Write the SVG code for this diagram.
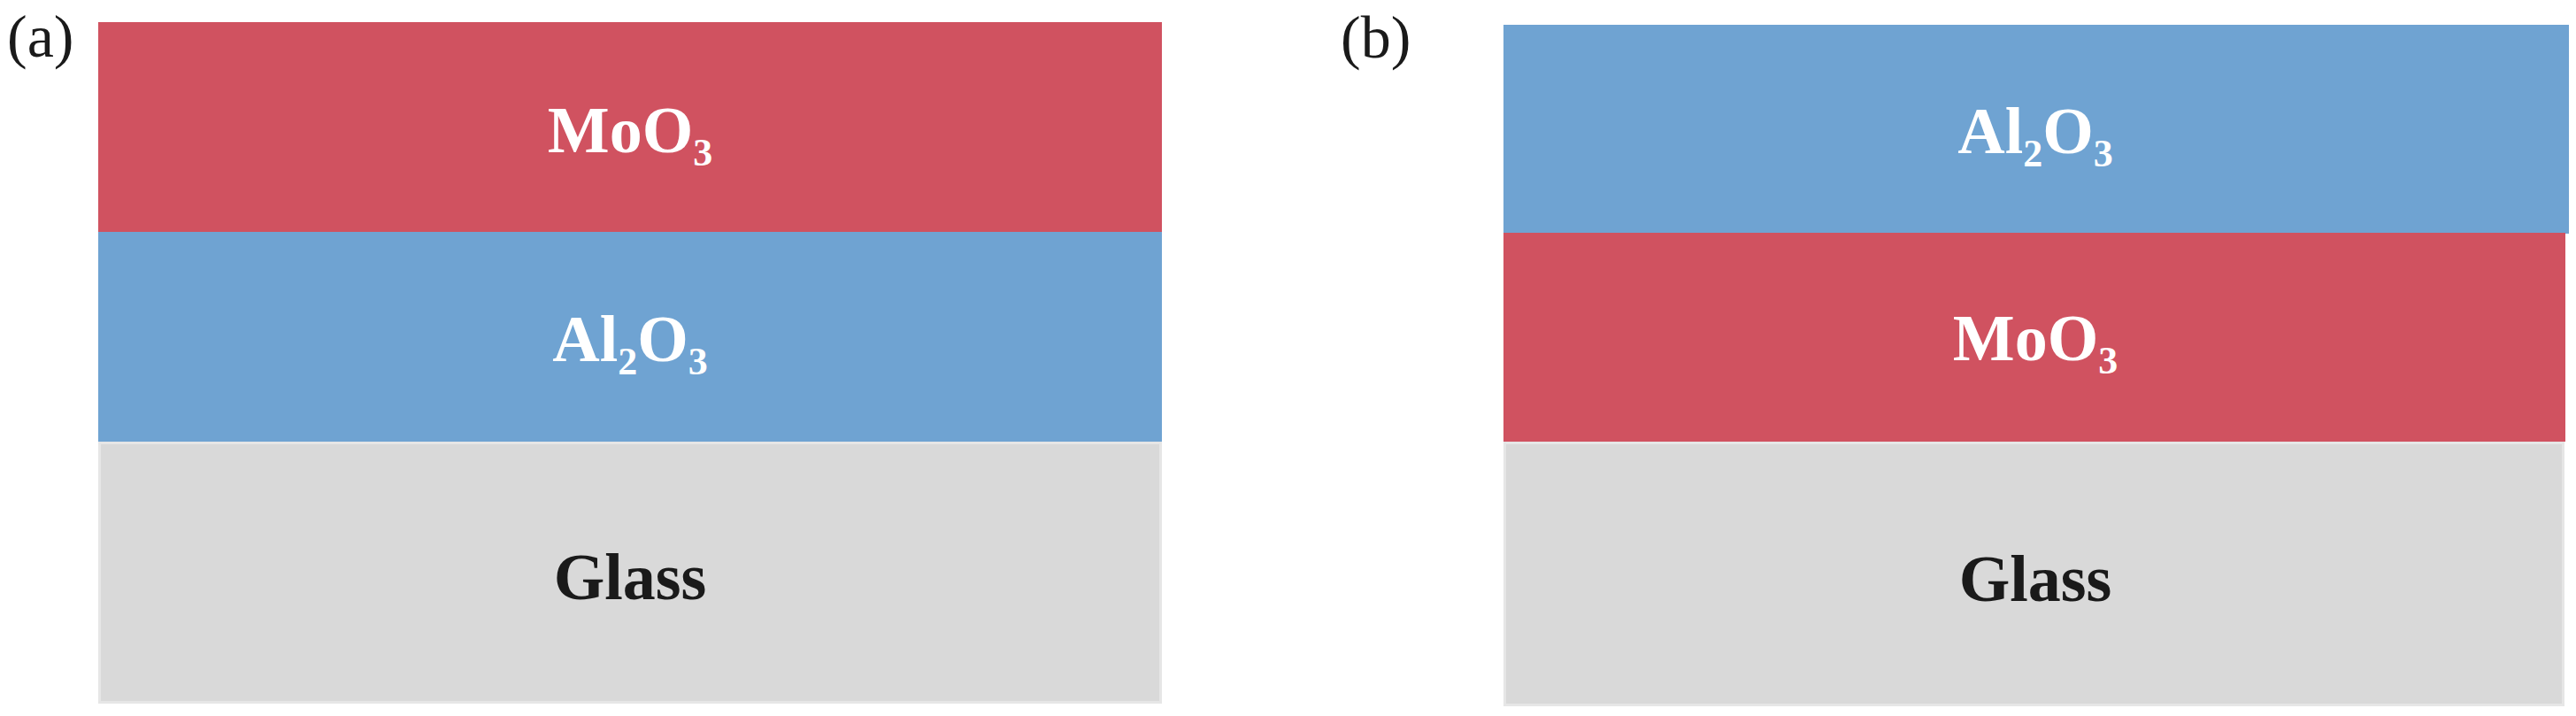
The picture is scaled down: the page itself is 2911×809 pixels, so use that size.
<svg xmlns="http://www.w3.org/2000/svg" width="2911" height="809" viewBox="0 0 2911 809">
<style>
.moo{fill:#D05260}
.al{fill:#6FA3D2}
.gl{fill:#D9D9D9;stroke:#E6E6E6;stroke-width:3}
.wt{font-family:"Liberation Serif","Times New Roman",serif;font-weight:bold;font-size:74px;fill:#FFFFFF;text-anchor:middle}
.bt{font-family:"Liberation Serif","Times New Roman",serif;font-weight:bold;font-size:74px;fill:#1A1A1A;text-anchor:middle}
.sub{font-size:44px}
.pl{font-family:"Liberation Serif","Times New Roman",serif;font-size:68px;fill:#1A1A1A}
</style>
<rect width="2911" height="809" fill="#FFFFFF"/>
<g id="panel-a">
  <text class="pl" x="8" y="64">(a)</text>
  <g id="a-moo3">
    <rect class="moo" x="111" y="25" width="1202" height="238"/>
    <text class="wt" x="712" y="172">MoO<tspan class="sub" dy="15">3</tspan></text>
  </g>
  <g id="a-al2o3">
    <rect class="al" x="111" y="262" width="1202" height="237"/>
    <text class="wt" x="712" y="408">Al<tspan class="sub" dy="15">2</tspan><tspan dy="-15">O</tspan><tspan class="sub" dy="15">3</tspan></text>
  </g>
  <g id="a-glass">
    <rect class="gl" x="112.5" y="500.5" width="1199" height="293"/>
    <text class="bt" x="712" y="677">Glass</text>
  </g>
</g>
<g id="panel-b">
  <text class="pl" x="1515" y="65">(b)</text>
  <g id="b-al2o3">
    <rect class="al" x="1699" y="28" width="1204" height="236"/>
    <text class="wt" x="2300" y="173">Al<tspan class="sub" dy="15">2</tspan><tspan dy="-15">O</tspan><tspan class="sub" dy="15">3</tspan></text>
  </g>
  <g id="b-moo3">
    <rect class="moo" x="1699" y="263" width="1200" height="236"/>
    <text class="wt" x="2300" y="407">MoO<tspan class="sub" dy="15">3</tspan></text>
  </g>
  <g id="b-glass">
    <rect class="gl" x="1700.5" y="500.5" width="1196" height="296"/>
    <text class="bt" x="2300" y="679">Glass</text>
  </g>
</g>
<g id="connectors"></g>
</svg>
